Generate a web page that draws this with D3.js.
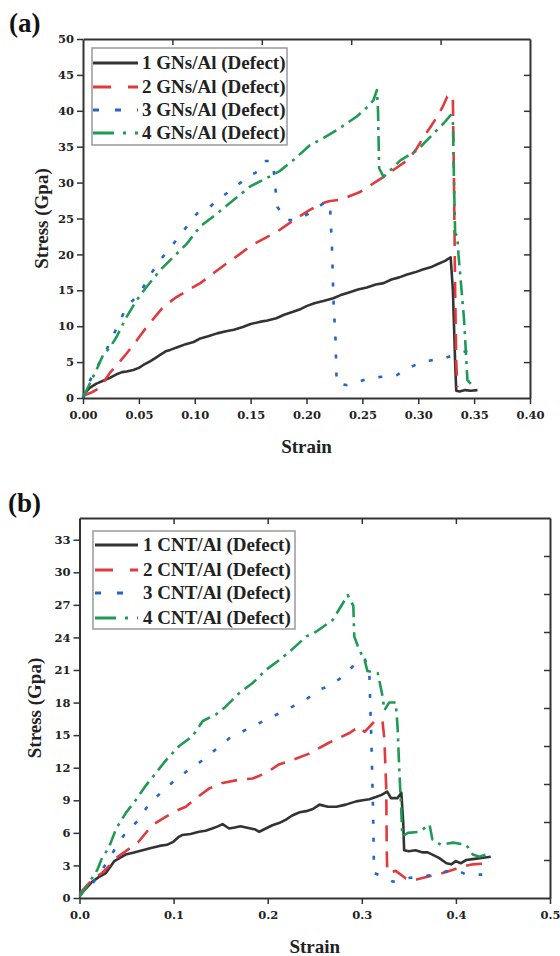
<!DOCTYPE html>
<html>
<head>
<meta charset="utf-8">
<script src="https://cdnjs.cloudflare.com/ajax/libs/d3/7.8.5/d3.min.js"></script>
<style>
  body { margin: 0; background: #fff; }
  svg { display: block; }
</style>
</head>
<body>
<script>
// ---- Data (strain, stress) ----

// (a) GNs/Al
const gnsLabels = ["1 GNs/Al (Defect)", "2 GNs/Al (Defect)", "3 GNs/Al (Defect)", "4 GNs/Al (Defect)"];
const gns1 = [[0,0],[0.003,0.9],[0.006,1.4],[0.012,2.0],[0.018,2.4],[0.024,2.8],[0.03,3.3],[0.035,3.6],[0.039,3.7],[0.045,3.9],[0.05,4.2],[0.054,4.6],[0.06,5.1],[0.065,5.6],[0.069,6.0],[0.074,6.5],[0.078,6.7],[0.085,7.1],[0.092,7.5],[0.099,7.8],[0.105,8.3],[0.112,8.6],[0.12,9.0],[0.128,9.3],[0.135,9.5],[0.143,9.9],[0.15,10.3],[0.158,10.6],[0.165,10.8],[0.173,11.1],[0.18,11.6],[0.188,12.0],[0.195,12.4],[0.2,12.8],[0.207,13.2],[0.215,13.5],[0.224,13.9],[0.23,14.3],[0.238,14.7],[0.246,15.1],[0.254,15.4],[0.262,15.8],[0.269,16.0],[0.276,16.5],[0.283,16.8],[0.29,17.2],[0.297,17.5],[0.304,17.9],[0.311,18.2],[0.318,18.7],[0.324,19.1],[0.329,19.6],[0.331,15],[0.333,5],[0.334,1.0],[0.337,0.9],[0.342,1.1],[0.347,1.0],[0.353,1.1]];
const gns2 = [[0,0.3],[0.008,0.8],[0.015,1.4],[0.024,3.5],[0.032,4.9],[0.039,6.2],[0.048,8.0],[0.057,9.9],[0.065,11.4],[0.072,12.7],[0.084,14.1],[0.095,15.1],[0.105,16.0],[0.117,17.4],[0.129,18.8],[0.14,20.0],[0.15,21.2],[0.162,22.2],[0.173,23.1],[0.188,24.7],[0.203,26.2],[0.212,27.0],[0.22,27.4],[0.23,27.6],[0.24,28.2],[0.248,28.7],[0.258,29.7],[0.269,30.8],[0.28,32.0],[0.29,33.1],[0.298,34.6],[0.305,36.4],[0.312,38.0],[0.317,39.2],[0.322,40.6],[0.326,42.0],[0.329,42.3],[0.331,41.5],[0.332,30],[0.333,15],[0.334,5],[0.335,1.5]];
const gns3 = [[0,0],[0.004,1.6],[0.009,3.4],[0.015,5.0],[0.021,6.7],[0.03,9.7],[0.039,12.7],[0.051,14.6],[0.06,17.1],[0.069,19.2],[0.081,21.5],[0.093,23.9],[0.102,25.7],[0.111,26.2],[0.12,27.6],[0.135,29.2],[0.147,30.8],[0.156,31.5],[0.162,33.0],[0.17,33.0],[0.172,29.4],[0.174,26.6],[0.182,24.8],[0.192,24.8],[0.203,25.8],[0.217,27.3],[0.221,27.0],[0.223,20.2],[0.224,14],[0.226,8],[0.227,2],[0.236,1.8],[0.247,2.3],[0.257,2.8],[0.27,3.0],[0.281,3.2],[0.29,4.1],[0.305,5.1],[0.323,5.5],[0.335,6.2],[0.35,6.8]];
const gns4 = [[0,0.3],[0.002,0.7],[0.007,2.3],[0.012,3.9],[0.018,6.0],[0.024,7.0],[0.03,8.5],[0.039,11.3],[0.048,13.6],[0.057,15.5],[0.069,17.8],[0.078,19.2],[0.093,21.5],[0.105,23.9],[0.12,25.7],[0.135,27.6],[0.15,29.5],[0.164,30.6],[0.176,31.6],[0.188,33.1],[0.203,35.2],[0.215,36.2],[0.227,37.3],[0.245,39.2],[0.255,40.6],[0.26,41.5],[0.263,42.9],[0.264,40],[0.265,32],[0.269,30.8],[0.284,33.1],[0.299,34.5],[0.311,36.4],[0.323,38.3],[0.329,39.4],[0.331,38.5],[0.332,30],[0.333,23],[0.335,22.5],[0.336,20],[0.341,10.9],[0.344,2.5],[0.348,1.8]];

// (b) CNT/Al
const cntLabels = ["1 CNT/Al (Defect)", "2 CNT/Al (Defect)", "3 CNT/Al (Defect)", "4 CNT/Al (Defect)"];
const cnt1 = [[0,0.2],[0.007,0.9],[0.0136,1.5],[0.02,1.9],[0.028,2.3],[0.033,2.9],[0.037,3.4],[0.043,3.7],[0.049,4.0],[0.058,4.2],[0.067,4.4],[0.076,4.6],[0.085,4.8],[0.093,4.9],[0.1,5.2],[0.105,5.6],[0.109,5.8],[0.118,5.9],[0.127,6.1],[0.134,6.2],[0.141,6.4],[0.147,6.6],[0.152,6.8],[0.159,6.4],[0.165,6.5],[0.171,6.6],[0.177,6.5],[0.182,6.4],[0.187,6.3],[0.191,6.1],[0.198,6.4],[0.205,6.7],[0.212,6.9],[0.219,7.2],[0.226,7.6],[0.234,7.9],[0.241,8.0],[0.248,8.2],[0.255,8.6],[0.264,8.4],[0.273,8.4],[0.283,8.6],[0.294,8.9],[0.301,9.0],[0.308,9.1],[0.315,9.3],[0.321,9.5],[0.327,9.8],[0.331,9.2],[0.338,9.2],[0.342,9.7],[0.344,7],[0.345,4.4],[0.35,4.3],[0.357,4.4],[0.365,4.2],[0.37,4.2],[0.375,4.0],[0.382,3.7],[0.39,3.2],[0.395,3.1],[0.4,3.4],[0.405,3.2],[0.411,3.5],[0.42,3.6],[0.429,3.7],[0.437,3.8]];
const cnt2 = [[0,0.4],[0.0136,1.7],[0.024,2.3],[0.032,3.0],[0.039,3.7],[0.049,4.3],[0.063,5.2],[0.077,6.7],[0.092,7.5],[0.102,8.0],[0.113,8.4],[0.127,9.4],[0.138,10.1],[0.152,10.6],[0.17,10.9],[0.184,11.0],[0.198,11.5],[0.212,12.3],[0.226,12.7],[0.244,13.3],[0.265,14.3],[0.287,15.2],[0.297,15.8],[0.303,15.3],[0.315,16.4],[0.322,16.3],[0.324,14.6],[0.326,10],[0.3265,4.5],[0.327,2.6],[0.329,2.3],[0.336,2.5],[0.347,1.8],[0.358,1.7],[0.372,2.0],[0.386,2.3],[0.397,2.6],[0.407,2.9],[0.418,3.1],[0.436,3.2]];
const cnt3 = [[0,0.3],[0.0136,1.3],[0.024,2.6],[0.031,3.5],[0.039,4.75],[0.049,6.0],[0.063,7.2],[0.074,8.7],[0.088,9.8],[0.102,10.9],[0.116,11.8],[0.131,12.7],[0.145,13.7],[0.159,14.7],[0.177,15.5],[0.191,16.1],[0.205,16.7],[0.219,17.3],[0.241,18.3],[0.255,19.2],[0.265,19.5],[0.28,20.4],[0.29,21.3],[0.303,22.1],[0.308,20.7],[0.31,15],[0.312,8],[0.313,2.3],[0.322,2.0],[0.333,1.5],[0.347,1.8],[0.361,2.0],[0.375,2.1],[0.39,2.45],[0.4,2.6],[0.41,2.2],[0.418,2.15],[0.428,2.15]];
const cnt4 = [[0,0.1],[0.01,1.4],[0.019,2.6],[0.024,3.7],[0.031,4.6],[0.039,6.4],[0.049,7.8],[0.06,9.05],[0.07,10.3],[0.081,11.5],[0.092,12.7],[0.106,14.0],[0.12,14.9],[0.131,16.3],[0.145,16.9],[0.155,17.6],[0.17,18.9],[0.184,19.8],[0.198,21.0],[0.212,21.9],[0.226,22.9],[0.241,24.1],[0.251,24.5],[0.269,25.6],[0.283,27.6],[0.285,27.9],[0.291,26.9],[0.292,24.1],[0.297,22.9],[0.303,21.9],[0.306,20.9],[0.317,20.7],[0.322,18.6],[0.324,17.3],[0.329,18.0],[0.336,18.0],[0.338,15.8],[0.34,11.5],[0.342,8],[0.343,5.7],[0.349,6.0],[0.361,6.1],[0.372,6.75],[0.375,5.4],[0.384,4.9],[0.397,5.1],[0.411,4.9],[0.418,4.0],[0.425,3.8],[0.432,4.0],[0.436,3.8]];

// Ticks
const gnsXTicks = d3.range(0, 0.401, 0.05);
const gnsXTopTicks = [0.08, 0.16, 0.24, 0.32];
const gnsYTicks = d3.range(0, 51, 5);
const cntXTicks = d3.range(0, 0.501, 0.1);
const cntYTicks = d3.range(0, 34, 3);
const cntYRightTicks = d3.range(3.5, 35, 3.5);

// ---- Styles ----
const colors = ["#333333", "#e23a3c", "#2166c9", "#1f9a55"];
const dashes = [null, "16,10", "4,14", "15,6,3,6"];
const legendDashes = [null, "18,17", "6,16", "21,9,3,9"];
const tickFont = "'DejaVu Serif', serif";
const textFont = "'Liberation Serif', 'Times New Roman', serif";

const svg = d3.select("body").append("svg")
  .attr("width", 560)
  .attr("height", 956);

function drawPanel(p) {
  const x = d3.scaleLinear().domain(p.xDomain).range([p.left, p.right]);
  const y = d3.scaleLinear().domain(p.yDomain).range([p.bottom, p.top]);
  const g = svg.append("g");

  // frame axes
  const bottomAxis = d3.axisBottom(x).tickValues(p.xTicks).tickFormat(d3.format(p.xFormat))
    .tickSizeInner(6).tickSizeOuter(0).tickPadding(7);
  const leftAxis = d3.axisLeft(y).tickValues(p.yTicks).tickFormat(d3.format("d"))
    .tickSizeInner(6).tickSizeOuter(0).tickPadding(3);
  const topAxis = d3.axisTop(x).tickValues(p.xTopTicks).tickFormat("")
    .tickSizeInner(-6).tickSizeOuter(0);
  const rightAxis = d3.axisRight(y).tickValues(p.yRightTicks).tickFormat("")
    .tickSizeInner(-6).tickSizeOuter(0);

  g.append("g").attr("transform", "translate(0," + p.top + ")").call(topAxis);
  g.append("g").attr("transform", "translate(" + p.right + ",0)").call(rightAxis);
  g.append("g").attr("transform", "translate(0," + p.bottom + ")").call(bottomAxis);
  g.append("g").attr("transform", "translate(" + p.left + ",0)").call(leftAxis);

  g.selectAll(".domain").attr("stroke", "#333").attr("stroke-width", 2);
  g.selectAll(".tick line").attr("stroke", "#333").attr("stroke-width", 1.5);
  g.selectAll(".tick text")
    .attr("fill", "#222")
    .style("font-family", tickFont)
    .style("font-weight", "bold")
    .style("font-size", "11.5px");

  // curves
  const line = d3.line().x(d => x(d[0])).y(d => y(d[1]));
  p.series.forEach((s, i) => {
    g.append("path")
      .datum(s)
      .attr("d", line)
      .attr("fill", "none")
      .attr("stroke", colors[i])
      .attr("stroke-width", 2.6)
      .attr("stroke-dasharray", dashes[i])
      .attr("stroke-linejoin", "round");
  });

  // legend
  const lg = p.legend;
  g.append("rect")
    .attr("x", lg.x).attr("y", lg.y)
    .attr("width", lg.w).attr("height", lg.h)
    .attr("fill", "#fff")
    .attr("stroke", "#999")
    .attr("stroke-width", 1.5);
  p.labels.forEach((t, i) => {
    const yy = lg.rows[i];
    g.append("line")
      .attr("x1", lg.x1).attr("x2", lg.x2)
      .attr("y1", yy).attr("y2", yy)
      .attr("stroke", colors[i])
      .attr("stroke-width", 2.8)
      .attr("stroke-dasharray", legendDashes[i]);
    g.append("text")
      .attr("x", lg.tx).attr("y", yy)
      .attr("dy", "0.34em")
      .attr("fill", "#222")
      .style("font-family", textFont)
      .style("font-weight", "bold")
      .style("font-size", "19px")
      .text(t);
  });

  // titles
  g.append("text")
    .attr("x", (p.left + p.right) / 2).attr("y", p.xTitleY)
    .attr("text-anchor", "middle")
    .attr("fill", "#222")
    .style("font-family", textFont).style("font-weight", "bold").style("font-size", "19px")
    .text("Strain");
  g.append("text")
    .attr("transform", "translate(" + p.yTitleX + "," + (p.top + p.bottom) / 2 + ") rotate(-90)")
    .attr("text-anchor", "middle")
    .attr("fill", "#222")
    .style("font-family", textFont).style("font-weight", "bold").style("font-size", "19px")
    .text("Stress (Gpa)");
  g.append("text")
    .attr("x", p.tagX).attr("y", p.tagY)
    .attr("fill", "#111")
    .style("font-family", textFont).style("font-weight", "bold").style("font-size", "27px")
    .text(p.tag);
}

drawPanel({
  tag: "(a)", tagX: 9, tagY: 32,
  left: 83, right: 530, top: 39, bottom: 398,
  xDomain: [0, 0.4], yDomain: [0, 50],
  xTicks: gnsXTicks, xTopTicks: gnsXTopTicks, xFormat: ".2f",
  yTicks: gnsYTicks, yRightTicks: gnsYTicks.slice(1, -1),
  xTitleY: 453, yTitleX: 48,
  series: [gns1, gns2, gns3, gns4], labels: gnsLabels,
  legend: { x: 92, y: 48, w: 195, h: 97, rows: [63, 87, 110, 133], x1: 93, x2: 138, tx: 142 }
});

drawPanel({
  tag: "(b)", tagX: 8, tagY: 512,
  left: 79.5, right: 550, top: 518, bottom: 898,
  xDomain: [0, 0.5], yDomain: [0, 35],
  xTicks: cntXTicks, xTopTicks: cntXTicks.slice(1, -1), xFormat: ".1f",
  yTicks: cntYTicks, yRightTicks: cntYRightTicks,
  xTitleY: 953, yTitleX: 41,
  series: [cnt1, cnt2, cnt3, cnt4], labels: cntLabels,
  legend: { x: 93, y: 531, w: 202, h: 98, rows: [545, 570, 593, 618], x1: 95, x2: 138, tx: 143 }
});
</script>
</body>
</html>
